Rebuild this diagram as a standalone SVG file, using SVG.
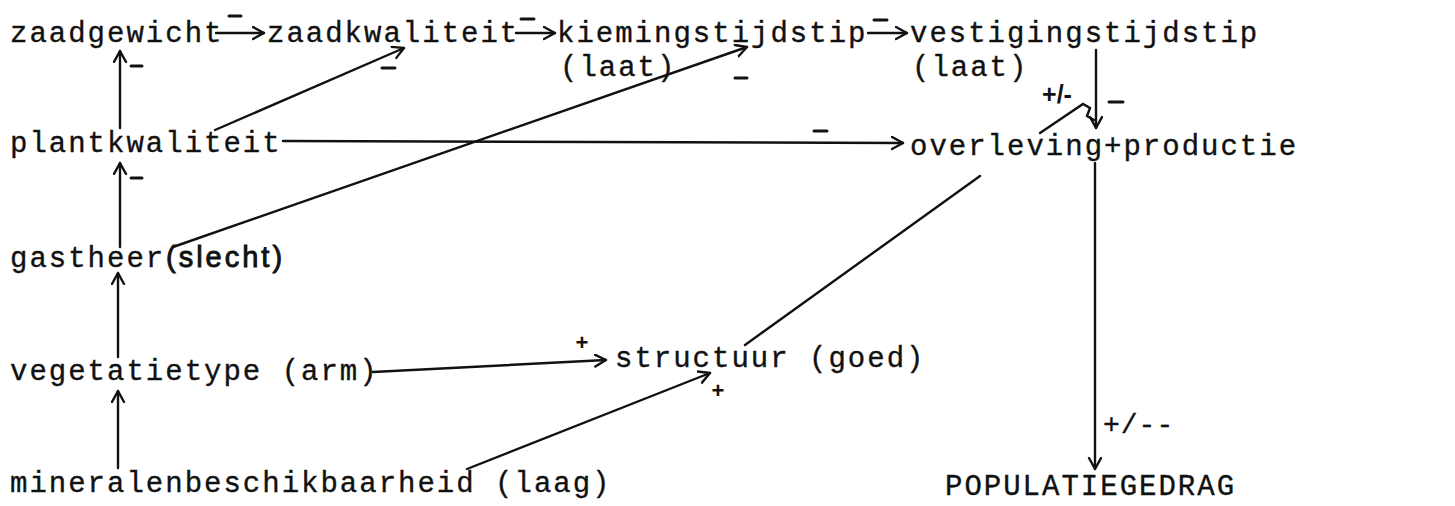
<svg xmlns="http://www.w3.org/2000/svg" width="1455" height="506" viewBox="0 0 1455 506">
<style>
.t{font-family:"Liberation Mono","Courier New",monospace;font-size:29px;letter-spacing:2px;fill:#111;stroke:#111;stroke-width:0.35}
.h{font-family:"Liberation Sans",Arial,sans-serif;font-size:29px;letter-spacing:3px;fill:#111;stroke:#111;stroke-width:0.9}
.l{font-family:"Liberation Sans",Arial,sans-serif;font-size:22px;font-weight:bold;fill:#111;text-anchor:middle}
.c{fill:none;stroke:#111;stroke-width:2.4;stroke-linecap:round}
.m{fill:none;stroke:#111;stroke-width:3;stroke-linecap:round}
</style>
<defs>
<marker id="a" markerUnits="userSpaceOnUse" markerWidth="16" markerHeight="16" refX="12" refY="7" orient="auto">
<path d="M1,1 L12,7 L1,13" fill="none" stroke="#111" stroke-width="2.4" stroke-linecap="round" stroke-linejoin="round"/>
</marker>
</defs>
<g id="n-zaadgewicht"><text class="t" x="10" y="42">zaadgewicht</text></g>
<g id="n-zaadkwaliteit"><text class="t" x="267" y="42">zaadkwaliteit</text></g>
<g id="n-kiemingstijdstip"><text class="t" x="557" y="42">kiemingstijdstip</text><text class="t" x="560" y="76">(laat)</text></g>
<g id="n-vestigingstijdstip"><text class="t" x="910" y="42">vestigingstijdstip</text><text class="t" x="912" y="76">(laat)</text></g>
<g id="n-plantkwaliteit"><text class="t" x="10" y="152">plantkwaliteit</text></g>
<g id="n-overleving"><text class="t" x="910" y="155">overleving+productie</text></g>
<g id="n-gastheer"><text class="t" x="10" y="267">gastheer</text><text class="h" x="166" y="267">(slecht)</text></g>
<g id="n-vegetatietype"><text class="t" x="10" y="380">vegetatietype (arm)</text></g>
<g id="n-structuur"><text class="t" x="615" y="367">structuur (goed)</text></g>
<g id="n-mineralen"><text class="t" x="10" y="492">mineralenbeschikbaarheid (laag)</text></g>
<g id="n-populatiegedrag"><text class="t" x="945" y="495">POPULATIEGEDRAG</text></g>
<g id="connectors">
<path class="c" d="M216,33 L264,33" marker-end="url(#a)"/>
<path class="c" d="M516,33 L555,33" marker-end="url(#a)"/>
<path class="c" d="M868,33 L907,33" marker-end="url(#a)"/>
<path class="c" d="M120,128 L120,51" marker-end="url(#a)"/>
<path class="c" d="M120,247 L120,163" marker-end="url(#a)"/>
<path class="c" d="M118,357 L118,273" marker-end="url(#a)"/>
<path class="c" d="M118,468 L118,391" marker-end="url(#a)"/>
<path class="c" d="M215,130 L404,48" marker-end="url(#a)"/>
<path class="c" d="M283,141 L903,143" marker-end="url(#a)"/>
<path class="c" d="M173,247 L747,47" marker-end="url(#a)"/>
<path class="c" d="M373,372 L606,360" marker-end="url(#a)"/>
<path class="c" d="M467,469 L710,373" marker-end="url(#a)"/>
<path class="c" d="M745,345 L980,176"/>
<path class="c" d="M1096,50 L1096,128" marker-end="url(#a)"/>
<path class="c" d="M1040,133 L1083,104 L1090,108 L1087,116 L1094,120"/>
<path class="c" d="M1095,163 L1095,469" marker-end="url(#a)"/>
<g id="labels">
<path class="m" d="M229,16 L241,16"/>
<path class="m" d="M521,19 L534,19"/>
<path class="m" d="M874,20 L887,20"/>
<path class="m" d="M131,66 L142,66"/>
<path class="m" d="M382,68 L395,68"/>
<path class="m" d="M131,178 L142,178"/>
<path class="m" d="M735,78 L747,78"/>
<path class="m" d="M814,131 L827,131"/>
<path class="m" d="M1109,102 L1123,102"/>
<text class="l" x="1057" y="103" style="font-size:25px">+/-</text>
<text class="l" x="582" y="350">+</text>
<text class="l" x="718" y="398">+</text>
<text class="t" x="1103" y="433" style="font-size:28px;letter-spacing:1px">+/--</text>
</g>
</g>
</svg>
